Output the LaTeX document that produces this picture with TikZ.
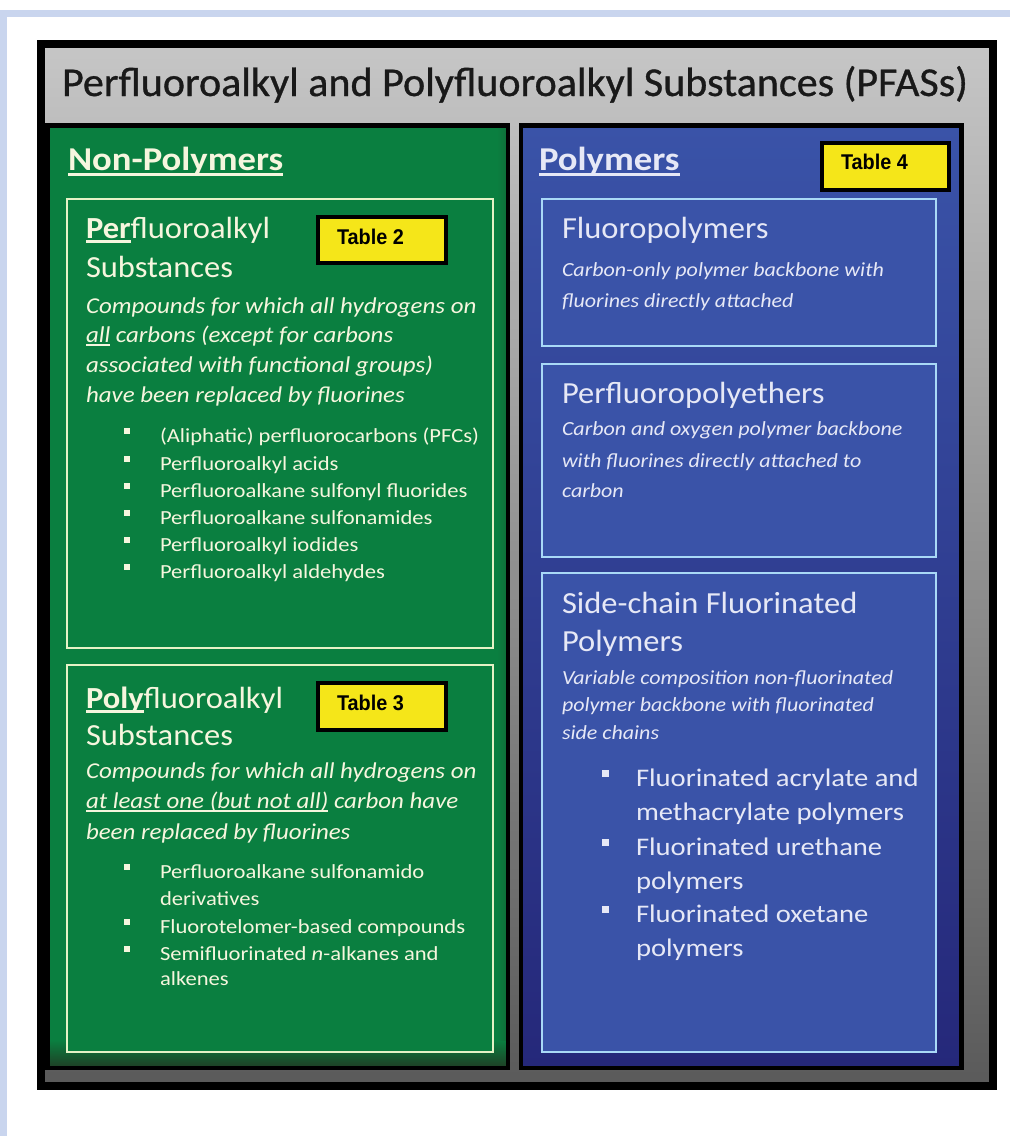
\documentclass[tikz,border=0pt]{standalone}
\usepackage{fontspec}
\setmainfont{Carlito}
\newfontfamily\arialfont[FakeStretch=0.93]{Liberation Sans}
\newfontfamily\titlefam[FakeBold=0.8]{Carlito}
\newfontfamily\fa[FakeStretch=1.06]{Carlito}
\newfontfamily\fb[FakeStretch=1.10]{Carlito}
\newfontfamily\fc[FakeStretch=1.13]{Carlito}
\usetikzlibrary{shadings}
\definecolor{frameblue}{HTML}{C9D5EE}
\definecolor{graytop}{HTML}{C6C6C6}
\definecolor{graymid}{HTML}{A8A8A8}
\definecolor{graybot}{HTML}{5A5A5A}
\definecolor{gmain}{HTML}{0A7F40}
\definecolor{gdark}{HTML}{1E4226}
\definecolor{gtext}{HTML}{F6F6DE}
\definecolor{gline}{HTML}{E6F2C6}
\definecolor{bmain}{HTML}{3A53A8}
\definecolor{bdark}{HTML}{25287A}
\definecolor{btext}{HTML}{E6E8F6}
\definecolor{bline}{HTML}{A9D9F7}
\definecolor{tabyellow}{HTML}{F5E619}
\newcommand{\myul}[1]{\setbox0\hbox{#1}\rlap{\rule[-0.17em]{\wd0}{0.09em}}\box0\relax}
\newcommand{\headfont}{\fb\fontsize{25}{30}\selectfont\bfseries}
\newcommand{\subfont}{\fa\fontsize{23}{28}\selectfont}
\newcommand{\descfont}{\fb\fontsize{17}{20}\selectfont\itshape}
\newcommand{\bulfont}{\fc\fontsize{15}{18}\selectfont}
\newcommand{\bdescfont}{\fb\fontsize{15}{18}\selectfont\itshape}
\newcommand{\bbulfont}{\fc\fontsize{19}{22}\selectfont}
\newcommand{\tabfont}{\arialfont\fontsize{16}{18}\selectfont\bfseries}
\tikzset{
  txt/.style={anchor=base west, inner sep=0pt, outer sep=0pt},
  gtxt/.style={txt, text=gtext},
  btxt/.style={txt, text=btext},
  gbox/.style={draw=gline, line width=2pt, fill=gmain},
  bbox/.style={draw=bline, line width=2pt, fill=bmain},
  tabbox/.style={draw=black, line width=2.3pt, fill=tabyellow},
  panelline/.style={draw=black, line width=3.5pt},
}
\begin{document}
\begin{tikzpicture}[x=0.75pt,y=-0.75pt]
\useasboundingbox (0,0) rectangle (1010,1136);
\fill[white] (0,0) rectangle (1010,1136);
% light frame
\fill[frameblue] (0,10) rectangle (1010,17);
\fill[frameblue] (0,10) rectangle (7,1136);
% outer box
\shade[top color=graytop, middle color=graymid, bottom color=graybot] (41,44) rectangle (993,1086);
\draw[line width=6pt] (41,44) rectangle (993,1086);
\node[txt, text=black!90] (title) at (62,96) {\resizebox{679.5pt}{22.5pt}{\titlefam\fontsize{27}{30}\selectfont Perfluoroalkyl and Polyfluoroalkyl Substances (PFASs)}};

% green panel
\fill[gmain] (47.5,125.5) rectangle (508,1068);
\shade[top color=gmain, bottom color=gdark] (50,1040) rectangle (506,1066);
\shade[left color=gmain, right color=gmain!75!gdark] (497,126) rectangle (506,1040);
\draw[panelline] (47.5,125.5) rectangle (508,1068);
% blue panel
\shade[top color=bmain, middle color=bmain!85!bdark, bottom color=bdark] (521,125.5) rectangle (961.5,1068);
\draw[panelline] (521,125.5) rectangle (961.5,1068);

% headings
\node[gtxt] (nonpoly) at (68,170) {\headfont\myul{Non-Polymers}};
\node[btxt] (poly) at (539,170) {\headfont\myul{Polymers}};

% green sub boxes
\draw[gbox] (67,199) rectangle (493,648);
\draw[gbox] (67,665) rectangle (493,1052);
% blue sub boxes
\draw[bbox] (542,199) rectangle (936,346);
\draw[bbox] (542,364) rectangle (936,557);
\draw[bbox] (542,573) rectangle (936,1052);

% table tags
\draw[tabbox] (318,217) rectangle (446,263);
\node[txt] (tab2) at (337,244) {\tabfont Table 2};
\draw[tabbox] (318,683) rectangle (446,730);
\node[txt] (tab3) at (337,710) {\tabfont Table 3};
\draw[tabbox] (822,143) rectangle (949,190);
\node[txt] (tab4) at (841,169) {\tabfont Table 4};

% Perfluoroalkyl box
\node[gtxt] (pertitle) at (86,238) {\subfont\myul{\textbf{Per}}fluoroalkyl};
\node[gtxt] (persub) at (86,277) {\subfont Substances};
\node[gtxt] (perd1) at (86,313) {\descfont Compounds for which all hydrogens on};
\node[gtxt] (perd2) at (86,342) {\descfont \myul{all} carbons (except for carbons};
\node[gtxt] (perd3) at (86,372) {\descfont associated with functional groups)};
\node[gtxt] (perd4) at (86,402) {\descfont have been replaced by fluorines};
\foreach \b/\t [count=\i] in {442/{(Aliphatic) perfluorocarbons (PFCs)},470/{Perfluoroalkyl acids},497/{Perfluoroalkane sulfonyl fluorides},524/{Perfluoroalkane sulfonamides},551/{Perfluoroalkyl iodides},578/{Perfluoroalkyl aldehydes}}{
  \fill[gtext] (124,\b-14) rectangle (130,\b-8);
  \node[gtxt] (perb\i) at (160,\b) {\bulfont \t};
}

% Polyfluoroalkyl box
\node[gtxt] (polytitle) at (86,708) {\subfont\myul{\textbf{Poly}}fluoroalkyl};
\node[gtxt] (polysub) at (86,745) {\subfont Substances};
\node[gtxt] (polyd1) at (86,778) {\descfont Compounds for which all hydrogens on};
\node[gtxt] (polyd2) at (86,808) {\descfont \myul{at least one (but not all)} carbon have};
\node[gtxt] (polyd3) at (86,839) {\descfont been replaced by fluorines};
\foreach \b in {878,933,960}{\fill[gtext] (124,\b-14) rectangle (130,\b-8);}
\node[gtxt] (polyb1) at (160,878) {\bulfont Perfluoroalkane sulfonamido};
\node[gtxt] (polyb1b) at (160,905) {\bulfont derivatives};
\node[gtxt] (polyb2) at (160,933) {\bulfont Fluorotelomer-based compounds};
\node[gtxt] (polyb3) at (160,960) {\bulfont Semifluorinated \textit{n}-alkanes and};
\node[gtxt] (polyb3b) at (160,985) {\bulfont alkenes};

% Fluoropolymers
\node[btxt] (fptitle) at (562,238) {\subfont Fluoropolymers};
\node[btxt] (fpd1) at (562,276) {\bdescfont Carbon-only polymer backbone with};
\node[btxt] (fpd2) at (562,307) {\bdescfont fluorines directly attached};

% Perfluoropolyethers
\node[btxt] (pfpetitle) at (562,403) {\subfont Perfluoropolyethers};
\node[btxt] (pfped1) at (562,435) {\bdescfont Carbon and oxygen polymer backbone};
\node[btxt] (pfped2) at (562,467) {\bdescfont with fluorines directly attached to};
\node[btxt] (pfped3) at (562,497) {\bdescfont carbon};

% Side-chain
\node[btxt] (sctitle1) at (562,613) {\subfont Side-chain Fluorinated};
\node[btxt] (sctitle2) at (562,651) {\subfont Polymers};
\node[btxt] (scd1) at (562,684) {\bdescfont Variable composition non-fluorinated};
\node[btxt] (scd2) at (562,711) {\bdescfont polymer backbone with fluorinated};
\node[btxt] (scd3) at (562,739) {\bdescfont side chains};
\foreach \b in {786,855,922}{\fill[btext] (602,\b-16) rectangle (609,\b-9);}
\node[btxt] (scb1) at (636,786) {\bbulfont Fluorinated acrylate and};
\node[btxt] (scb1b) at (636,820) {\bbulfont methacrylate polymers};
\node[btxt] (scb2) at (636,855) {\bbulfont Fluorinated urethane};
\node[btxt] (scb2b) at (636,889) {\bbulfont polymers};
\node[btxt] (scb3) at (636,922) {\bbulfont Fluorinated oxetane};
\node[btxt] (scb3b) at (636,956) {\bbulfont polymers};
\end{tikzpicture}
\end{document}
